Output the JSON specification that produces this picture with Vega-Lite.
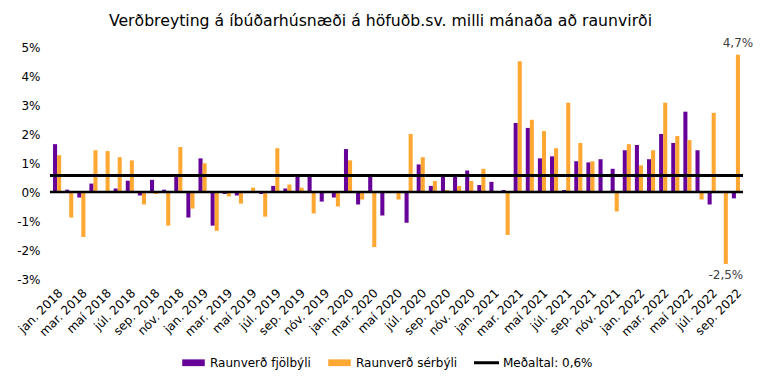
{
  "$schema": "https://vega.github.io/schema/vega-lite/v6.json",
  "width": 693,
  "height": 232,
  "autosize": {"type": "none"},
  "padding": {"left": 50, "top": 47, "right": 19, "bottom": 105},
  "background": "white",
  "title": {"text": "Verðbreyting á íbúðarhúsnæði á höfuðb.sv. milli mánaða að raunvirði", "fontSize": 15.7, "font": "DejaVu Sans", "fontWeight": "normal", "anchor": "middle", "offset": 7, "dx": -16, "color": "black"},
  "config": {"view": {"stroke": null}, "font": "DejaVu Sans", "axisY": {"labelOverlap": false}, "axisX": {"labelOverlap": false}},
  "data": {"values": [
    {"m": "jan. 2018", "s": "Raunverð fjölbýli", "v": 1.65}, {"m": "jan. 2018", "s": "Raunverð sérbýli", "v": 1.27},
    {"m": "feb. 2018", "s": "Raunverð fjölbýli", "v": 0.08}, {"m": "feb. 2018", "s": "Raunverð sérbýli", "v": -0.88},
    {"m": "mar. 2018", "s": "Raunverð fjölbýli", "v": -0.19}, {"m": "mar. 2018", "s": "Raunverð sérbýli", "v": -1.55},
    {"m": "apr. 2018", "s": "Raunverð fjölbýli", "v": 0.29}, {"m": "apr. 2018", "s": "Raunverð sérbýli", "v": 1.44},
    {"m": "maí 2018", "s": "Raunverð fjölbýli", "v": 0.0}, {"m": "maí 2018", "s": "Raunverð sérbýli", "v": 1.41},
    {"m": "jún. 2018", "s": "Raunverð fjölbýli", "v": 0.12}, {"m": "jún. 2018", "s": "Raunverð sérbýli", "v": 1.2},
    {"m": "júl. 2018", "s": "Raunverð fjölbýli", "v": 0.39}, {"m": "júl. 2018", "s": "Raunverð sérbýli", "v": 1.09},
    {"m": "ágú. 2018", "s": "Raunverð fjölbýli", "v": -0.12}, {"m": "ágú. 2018", "s": "Raunverð sérbýli", "v": -0.43},
    {"m": "sep. 2018", "s": "Raunverð fjölbýli", "v": 0.42}, {"m": "sep. 2018", "s": "Raunverð sérbýli", "v": -0.07},
    {"m": "okt. 2018", "s": "Raunverð fjölbýli", "v": 0.08}, {"m": "okt. 2018", "s": "Raunverð sérbýli", "v": -1.16},
    {"m": "nóv. 2018", "s": "Raunverð fjölbýli", "v": 0.55}, {"m": "nóv. 2018", "s": "Raunverð sérbýli", "v": 1.55},
    {"m": "des. 2018", "s": "Raunverð fjölbýli", "v": -0.88}, {"m": "des. 2018", "s": "Raunverð sérbýli", "v": -0.57},
    {"m": "jan. 2019", "s": "Raunverð fjölbýli", "v": 1.16}, {"m": "jan. 2019", "s": "Raunverð sérbýli", "v": 0.99},
    {"m": "feb. 2019", "s": "Raunverð fjölbýli", "v": -1.16}, {"m": "feb. 2019", "s": "Raunverð sérbýli", "v": -1.34},
    {"m": "mar. 2019", "s": "Raunverð fjölbýli", "v": -0.07}, {"m": "mar. 2019", "s": "Raunverð sérbýli", "v": -0.15},
    {"m": "apr. 2019", "s": "Raunverð fjölbýli", "v": -0.12}, {"m": "apr. 2019", "s": "Raunverð sérbýli", "v": -0.4},
    {"m": "maí 2019", "s": "Raunverð fjölbýli", "v": 0.03}, {"m": "maí 2019", "s": "Raunverð sérbýli", "v": 0.15},
    {"m": "jún. 2019", "s": "Raunverð fjölbýli", "v": -0.07}, {"m": "jún. 2019", "s": "Raunverð sérbýli", "v": -0.85},
    {"m": "júl. 2019", "s": "Raunverð fjölbýli", "v": 0.21}, {"m": "júl. 2019", "s": "Raunverð sérbýli", "v": 1.51},
    {"m": "ágú. 2019", "s": "Raunverð fjölbýli", "v": 0.12}, {"m": "ágú. 2019", "s": "Raunverð sérbýli", "v": 0.26},
    {"m": "sep. 2019", "s": "Raunverð fjölbýli", "v": 0.55}, {"m": "sep. 2019", "s": "Raunverð sérbýli", "v": 0.15},
    {"m": "okt. 2019", "s": "Raunverð fjölbýli", "v": 0.55}, {"m": "okt. 2019", "s": "Raunverð sérbýli", "v": -0.74},
    {"m": "nóv. 2019", "s": "Raunverð fjölbýli", "v": -0.33}, {"m": "nóv. 2019", "s": "Raunverð sérbýli", "v": 0.0},
    {"m": "des. 2019", "s": "Raunverð fjölbýli", "v": -0.19}, {"m": "des. 2019", "s": "Raunverð sérbýli", "v": -0.5},
    {"m": "jan. 2020", "s": "Raunverð fjölbýli", "v": 1.48}, {"m": "jan. 2020", "s": "Raunverð sérbýli", "v": 1.09},
    {"m": "feb. 2020", "s": "Raunverð fjölbýli", "v": -0.43}, {"m": "feb. 2020", "s": "Raunverð sérbýli", "v": -0.26},
    {"m": "mar. 2020", "s": "Raunverð fjölbýli", "v": 0.55}, {"m": "mar. 2020", "s": "Raunverð sérbýli", "v": -1.9},
    {"m": "apr. 2020", "s": "Raunverð fjölbýli", "v": -0.81}, {"m": "apr. 2020", "s": "Raunverð sérbýli", "v": 0.0},
    {"m": "maí 2020", "s": "Raunverð fjölbýli", "v": 0.0}, {"m": "maí 2020", "s": "Raunverð sérbýli", "v": -0.26},
    {"m": "jún. 2020", "s": "Raunverð fjölbýli", "v": -1.06}, {"m": "jún. 2020", "s": "Raunverð sérbýli", "v": 2.0},
    {"m": "júl. 2020", "s": "Raunverð fjölbýli", "v": 0.95}, {"m": "júl. 2020", "s": "Raunverð sérbýli", "v": 1.2},
    {"m": "ágú. 2020", "s": "Raunverð fjölbýli", "v": 0.21}, {"m": "ágú. 2020", "s": "Raunverð sérbýli", "v": 0.38},
    {"m": "sep. 2020", "s": "Raunverð fjölbýli", "v": 0.55}, {"m": "sep. 2020", "s": "Raunverð sérbýli", "v": 0.07},
    {"m": "okt. 2020", "s": "Raunverð fjölbýli", "v": 0.55}, {"m": "okt. 2020", "s": "Raunverð sérbýli", "v": 0.21},
    {"m": "nóv. 2020", "s": "Raunverð fjölbýli", "v": 0.74}, {"m": "nóv. 2020", "s": "Raunverð sérbýli", "v": 0.38},
    {"m": "des. 2020", "s": "Raunverð fjölbýli", "v": 0.24}, {"m": "des. 2020", "s": "Raunverð sérbýli", "v": 0.8},
    {"m": "jan. 2021", "s": "Raunverð fjölbýli", "v": 0.35}, {"m": "jan. 2021", "s": "Raunverð sérbýli", "v": 0.0},
    {"m": "feb. 2021", "s": "Raunverð fjölbýli", "v": 0.07}, {"m": "feb. 2021", "s": "Raunverð sérbýli", "v": -1.48},
    {"m": "mar. 2021", "s": "Raunverð fjölbýli", "v": 2.38}, {"m": "mar. 2021", "s": "Raunverð sérbýli", "v": 4.51},
    {"m": "apr. 2021", "s": "Raunverð fjölbýli", "v": 2.21}, {"m": "apr. 2021", "s": "Raunverð sérbýli", "v": 2.49},
    {"m": "maí 2021", "s": "Raunverð fjölbýli", "v": 1.16}, {"m": "maí 2021", "s": "Raunverð sérbýli", "v": 2.1},
    {"m": "jún. 2021", "s": "Raunverð fjölbýli", "v": 1.23}, {"m": "jún. 2021", "s": "Raunverð sérbýli", "v": 1.51},
    {"m": "júl. 2021", "s": "Raunverð fjölbýli", "v": 0.07}, {"m": "júl. 2021", "s": "Raunverð sérbýli", "v": 3.08},
    {"m": "ágú. 2021", "s": "Raunverð fjölbýli", "v": 1.06}, {"m": "ágú. 2021", "s": "Raunverð sérbýli", "v": 1.69},
    {"m": "sep. 2021", "s": "Raunverð fjölbýli", "v": 1.02}, {"m": "sep. 2021", "s": "Raunverð sérbýli", "v": 1.06},
    {"m": "okt. 2021", "s": "Raunverð fjölbýli", "v": 1.13}, {"m": "okt. 2021", "s": "Raunverð sérbýli", "v": 0.0},
    {"m": "nóv. 2021", "s": "Raunverð fjölbýli", "v": 0.8}, {"m": "nóv. 2021", "s": "Raunverð sérbýli", "v": -0.67},
    {"m": "des. 2021", "s": "Raunverð fjölbýli", "v": 1.44}, {"m": "des. 2021", "s": "Raunverð sérbýli", "v": 1.65},
    {"m": "jan. 2022", "s": "Raunverð fjölbýli", "v": 1.62}, {"m": "jan. 2022", "s": "Raunverð sérbýli", "v": 0.92},
    {"m": "feb. 2022", "s": "Raunverð fjölbýli", "v": 1.13}, {"m": "feb. 2022", "s": "Raunverð sérbýli", "v": 1.44},
    {"m": "mar. 2022", "s": "Raunverð fjölbýli", "v": 2.0}, {"m": "mar. 2022", "s": "Raunverð sérbýli", "v": 3.08},
    {"m": "apr. 2022", "s": "Raunverð fjölbýli", "v": 1.69}, {"m": "apr. 2022", "s": "Raunverð sérbýli", "v": 1.93},
    {"m": "maí 2022", "s": "Raunverð fjölbýli", "v": 2.77}, {"m": "maí 2022", "s": "Raunverð sérbýli", "v": 1.79},
    {"m": "jún. 2022", "s": "Raunverð fjölbýli", "v": 1.44}, {"m": "jún. 2022", "s": "Raunverð sérbýli", "v": -0.26},
    {"m": "júl. 2022", "s": "Raunverð fjölbýli", "v": -0.43}, {"m": "júl. 2022", "s": "Raunverð sérbýli", "v": 2.73},
    {"m": "ágú. 2022", "s": "Raunverð fjölbýli", "v": 0.0}, {"m": "ágú. 2022", "s": "Raunverð sérbýli", "v": -2.48, "lab": "-2,5%"},
    {"m": "sep. 2022", "s": "Raunverð fjölbýli", "v": -0.22}, {"m": "sep. 2022", "s": "Raunverð sérbýli", "v": 4.73, "lab": "4,7%"}
  ]},
  "layer": [
    {
      "mark": {"type": "bar"},
      "encoding": {
        "x": {"field": "m", "type": "nominal", "sort": null,
          "scale": {"paddingInner": 0.33, "paddingOuter": 0.25},
          "axis": {"title": null, "labelAngle": -45, "labelOverlap": false,
            "labelExpr": "test(/^(jan|mar|maí|júl|sep|nóv)/, datum.label) ? datum.label : ''",
            "domain": false, "ticks": false, "labelFontSize": 12, "labelColor": "black", "labelPadding": 8}},
        "xOffset": {"field": "s", "type": "nominal", "sort": null},
        "y": {"field": "v", "type": "quantitative", "scale": {"domain": [-3, 5], "nice": false},
          "axis": {"values": [-3, -2, -1, 0, 1, 2, 3, 4, 5], "tickCount": 9, "labelExpr": "datum.value + '%'", "title": null, "labelOverlap": false,
            "domain": false, "ticks": false, "grid": false, "labelFontSize": 12, "labelColor": "black", "labelPadding": 10}},
        "color": {"field": "s", "type": "nominal",
          "scale": {"domain": ["Raunverð fjölbýli", "Raunverð sérbýli", "Meðaltal: 0,6%"], "range": ["#660099", "#FFA733", "#000000"]},
          "legend": {"title": null, "orient": "none", "direction": "horizontal", "legendX": 131, "legendY": 303,
            "labelFontSize": 12, "labelColor": "black", "symbolSize": 625, "columnPadding": 16, "labelOffset": 4,
            "encode": {"symbols": {"update": {
              "shape": {"signal": "datum.value === 'Meðaltal: 0,6%' ? 'M-1,-0.12H1V0.12H-1Z' : 'M-0.9,-0.27H0.9V0.27H-0.9Z'"},
              "fill": {"scale": "color", "field": "value"},
              "strokeWidth": {"value": 0},
              "opacity": {"value": 1}}}}}}
      }
    },
    {
      "data": {"values": [{"z": 0}]},
      "mark": {"type": "rule", "strokeWidth": 2.5, "color": "black"},
      "encoding": {"y": {"field": "z", "type": "quantitative"}}
    },
    {
      "data": {"values": [{"name": "Meðaltal: 0,6%", "v": 0.57}]},
      "mark": {"type": "rule", "strokeWidth": 3},
      "encoding": {"y": {"field": "v", "type": "quantitative"}, "color": {"field": "name", "type": "nominal"}}
    },
    {
      "transform": [{"filter": "datum.lab && datum.v > 0"}],
      "mark": {"type": "text", "baseline": "bottom", "dy": -5, "fontSize": 12, "color": "#404040"},
      "encoding": {"x": {"field": "m", "type": "nominal", "sort": null}, "xOffset": {"field": "s", "type": "nominal", "sort": null},
        "y": {"field": "v", "type": "quantitative"}, "text": {"field": "lab"}}
    },
    {
      "transform": [{"filter": "datum.lab && datum.v < 0"}],
      "mark": {"type": "text", "baseline": "top", "dy": 6, "fontSize": 12, "color": "#404040"},
      "encoding": {"x": {"field": "m", "type": "nominal", "sort": null}, "xOffset": {"field": "s", "type": "nominal", "sort": null},
        "y": {"field": "v", "type": "quantitative"}, "text": {"field": "lab"}}
    }
  ]
}
